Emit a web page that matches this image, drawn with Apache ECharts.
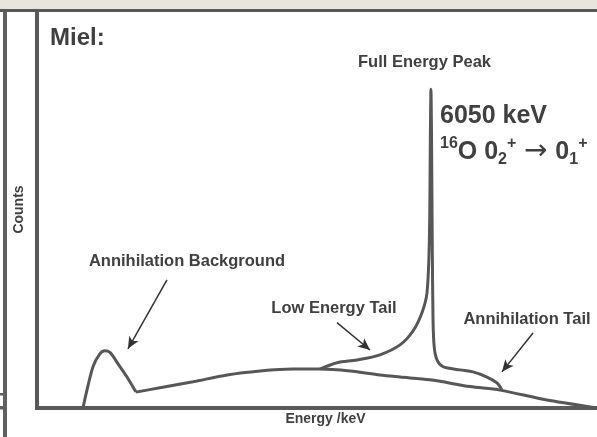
<!DOCTYPE html>
<html>
<head>
<meta charset="utf-8">
<script src="https://cdn.jsdelivr.net/npm/echarts@6/dist/echarts.min.js"></script>
<style>
html,body{margin:0;padding:0;background:#fff;}
#c{width:597px;height:437px;}
</style>
</head>
<body>
<div id="c"></div>
<script>
// Energy in keV (x), counts in arbitrary units (y)
var annihilationBump = [[706,0],[760,40],[860,104],[960,135],[1040,144],[1120,140],[1250,110],[1382,78],[1520,40]];
var continuum = [[1520,40],[1889,51],[2396,66],[2918,83],[3425,93],[3931,98],[4346,98],[4807,93],[5267,83],[5575,78],[6035,71],[6650,54],[7110,45],[7832,20],[8600,0]];
var peakWithTails = [[4346,98],[4607,114],[4914,121],[5267,134],[5575,159],[5774,194],[5912,240],[5989,290],[6025,420],[6042,700],[6050,803],[6058,700],[6070,420],[6082,222],[6100,154],[6143,121],[6235,104],[6496,96],[6696,91],[6911,78],[7064,63],[7141,45]];
// Arrows: [from, to] in data coordinates
var arrows = [
  [[1996,323],[1397,149]],
  [[4607,215],[5114,146]],
  [[7617,189],[7141,91]]
];
var xName = 'Energy /keV';
var yName = 'Counts';

var chart = echarts.init(document.getElementById('c'), null, {renderer:'canvas'});
var FONT = 'Liberation Sans, Arial, sans-serif';
var TXT = '#404040';
var LINE = '#575757';
var axisStyle = {show:true, lineStyle:{color:'#5a5a5a', width:4, cap:'square'}};

function serie(name, data){
  return {name:name, type:'line', data:data, smooth:0.3, symbol:'none',
    lineStyle:{color:LINE, width:3}, animation:false, silent:true};
}
var s3 = serie('peak', peakWithTails);
s3.markLine = {
  silent:true, animation:false, symbol:['none','arrow'], symbolSize:[8,12],
  label:{show:false},
  lineStyle:{color:'#333', width:1.5, type:'solid'},
  emphasis:{disabled:true},
  data: arrows.map(function(a){ return [{coord:a[0]},{coord:a[1]}]; })
};

chart.setOption({
  backgroundColor:'#fff',
  animation:false,
  grid:{left:37, right:0, top:11, bottom:29},
  xAxis:{type:'value', min:0, max:8600, axisLine:axisStyle, axisTick:{show:false}, axisLabel:{show:false}, splitLine:{show:false},
    name:xName, nameLocation:'middle', nameGap:4,
    nameTextStyle:{fontFamily:FONT, fontWeight:'bold', fontSize:14, color:TXT, padding:[0,0,0,17], verticalAlign:'top'}},
  yAxis:{type:'value', min:0, max:1000, axisLine:axisStyle, axisTick:{show:false}, axisLabel:{show:false}, splitLine:{show:false},
    name:yName, nameLocation:'middle', nameGap:11, nameRotate:90,
    nameTextStyle:{fontFamily:FONT, fontWeight:'bold', fontSize:14, color:TXT}},
  series:[serie('annihilation', annihilationBump), serie('continuum', continuum), s3],
  graphic:[
    {type:'rect', shape:{x:0,y:0,width:597,height:9}, style:{fill:'#e8e5de'}, silent:true},
    {type:'rect', shape:{x:0,y:9,width:597,height:3}, style:{fill:'#595959'}, silent:true},
    {type:'rect', shape:{x:3,y:11,width:4,height:426}, style:{fill:'#5f5f5f'}, silent:true},
    {type:'rect', shape:{x:0,y:393,width:4,height:2.5}, style:{fill:'#5f5f5f'}, silent:true},
    {type:'rect', shape:{x:0,y:406,width:4,height:3.5}, style:{fill:'#5f5f5f'}, silent:true},
    {type:'text', style:{text:'Miel:', x:50, y:38, verticalAlign:'middle', align:'left', font:'bold 24px '+FONT, fill:TXT}},
    {type:'text', style:{text:'Full Energy Peak', x:424.5, y:62, verticalAlign:'middle', align:'center', font:'bold 16.5px '+FONT, fill:TXT}},
    {type:'text', style:{text:'Annihilation Background', x:187, y:261.5, verticalAlign:'middle', align:'center', font:'bold 16.5px '+FONT, fill:TXT}},
    {type:'text', style:{text:'Low Energy Tail', x:334, y:308.5, verticalAlign:'middle', align:'center', font:'bold 16.5px '+FONT, fill:TXT}},
    {type:'text', style:{text:'Annihilation Tail', x:527, y:319, verticalAlign:'middle', align:'center', font:'bold 16.5px '+FONT, fill:TXT}},
    {type:'text', style:{text:'6050 keV', x:440, y:116, verticalAlign:'middle', align:'left', font:'bold 25px '+FONT, fill:TXT}},
    {type:'text', style:{
      text:'{sup|16}{main|O 0}{sub|2}{sup|+}{gap| }{arrow|\u2192}{gap| }{main|0}{sub|1}{sup|+}',
      x:440, y:152, verticalAlign:'middle', align:'left',
      rich:{
        main:{fontFamily:FONT, fontWeight:'bold', fontSize:25, color:TXT, lineHeight:32, verticalAlign:'middle'},
        gap:{fontFamily:FONT, fontWeight:'bold', fontSize:28, color:TXT, lineHeight:32, verticalAlign:'middle'},
        arrow:{fontFamily:'DejaVu Sans', fontWeight:'normal', fontSize:28, color:TXT, lineHeight:32, verticalAlign:'middle'},
        sup:{fontFamily:FONT, fontWeight:'bold', fontSize:16, color:TXT, lineHeight:32, verticalAlign:'top'},
        sub:{fontFamily:FONT, fontWeight:'bold', fontSize:16, color:TXT, lineHeight:32, verticalAlign:'bottom'}
      },
      fill:TXT
    }}
  ]
});
</script>
</body>
</html>
